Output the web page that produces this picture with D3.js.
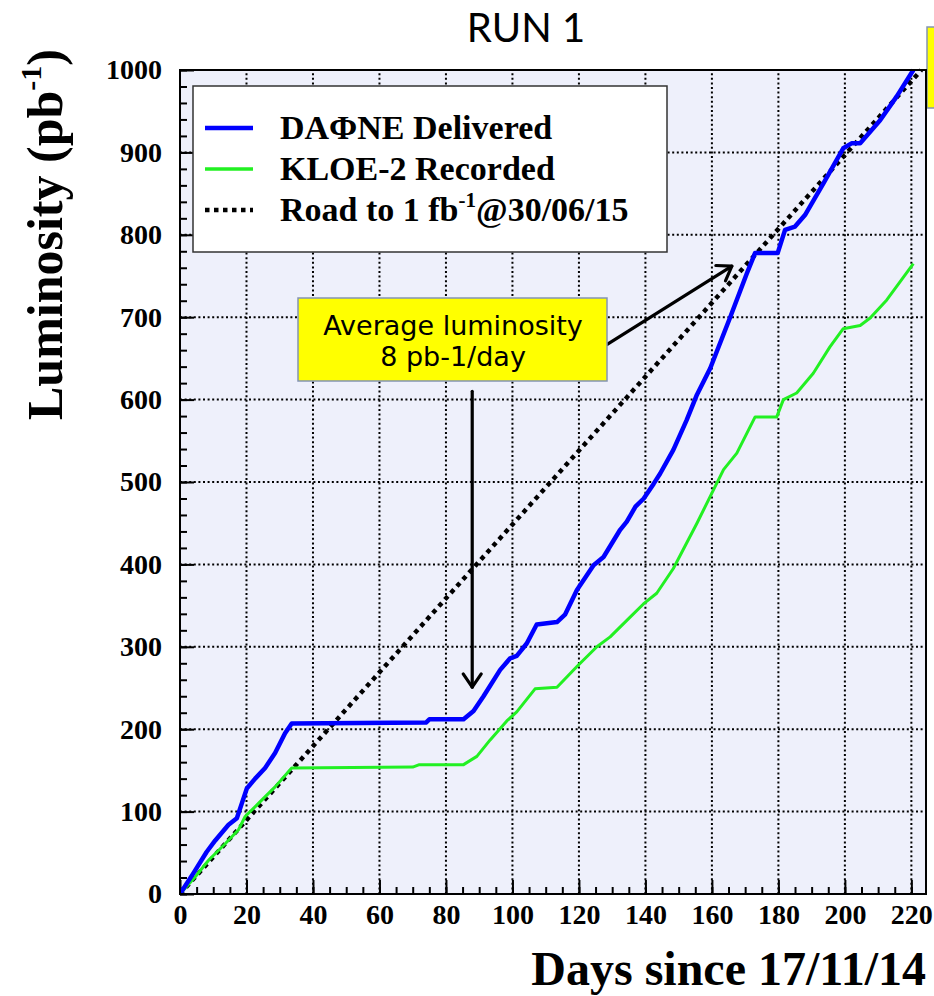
<!DOCTYPE html>
<html>
<head>
<meta charset="utf-8">
<script src="https://cdn.jsdelivr.net/npm/d3@7"></script>
<style>
  body { margin: 0; background: #ffffff; }
  svg { display: block; }
</style>
</head>
<body>
<svg id="chart" width="934" height="996"></svg>
<script>
// Integrated luminosity, DAΦNE delivered (pb^-1) vs days since 17/11/14
const deliveredDays = [0, 4, 8, 10.6, 14.6, 17.1, 18.6, 20.1, 22.6, 25.6, 28.6, 31.6, 33.6,
  74, 75, 85.3, 88.3, 91.3, 96.3, 99.3, 101.3, 104.3, 107.3, 113.4, 115.8, 119.4, 124.4,
  127.4, 132.4, 134.4, 137, 139.5, 142.5, 144.4, 148.4, 152.4, 155.5, 159.5, 165.5, 170.5,
  173, 179.8, 182, 185, 188, 193.5, 199.5, 202, 204.6, 210.6, 215.6, 220.6];
const deliveredLumi = [0, 25, 51, 65, 84, 92, 110, 128, 140, 153, 171, 195, 207,
  208, 212, 212, 222, 240, 272, 286, 289, 304, 327, 330, 339, 369, 399,
  409, 442, 452, 470, 480, 498, 510, 539, 575, 606, 638, 700, 753,
  778, 778, 806, 810, 824, 862, 905, 911, 911, 939, 968, 1000];

// KLOE-2 recorded
const recordedDays = [0, 4.6, 8.6, 13.6, 17.6, 19.6, 23.6, 28.6, 33.6, 70, 72, 85.3, 89.3,
  93.3, 98.3, 101.3, 106.8, 113.4, 119.4, 125.4, 129.4, 135.4, 139.4, 143.4, 148.4, 155.5,
  163.5, 167.5, 173, 179.5, 181.5, 185.5, 190.5, 195.5, 199.5, 204.6, 207.6, 212.6, 220.6];
const recordedLumi = [0, 21, 41, 61, 78, 94, 110, 130, 153, 154, 157, 157, 167,
  187, 210, 221, 249, 251, 276, 300, 312, 336, 352, 365, 395, 450,
  515, 535, 579, 579, 600, 608, 632, 664, 686, 690, 699, 721, 765];

// Target: 1 fb^-1 by 30/06/15
const roadDays = [0, 223];
const roadLumi = [0, 1000];

const xTicks = [0, 20, 40, 60, 80, 100, 120, 140, 160, 180, 200, 220];
const yTicks = [0, 100, 200, 300, 400, 500, 600, 700, 800, 900, 1000];

const legendLabels = ["DAΦNE Delivered", "KLOE-2 Recorded", "Road to 1 fb"];
const titleText = "RUN 1";
const xTitle = "Days since 17/11/14";
const yTitle = "Luminosity (pb";
const noteLines = ["Average luminosity", "8 pb-1/day"];

// Annotation arrows, in data units: [fromDay, fromLumi, toDay, toLumi]
const arrowDown = [87.9, 610, 87.9, 251];
const arrowDiag = [128.5, 667, 166, 762];

const svg = d3.select("#chart");
const plotLeft = 180, plotRight = 926, plotTop = 70, plotBottom = 894;

const x = d3.scaleLinear().domain([0, 224.4]).range([plotLeft, plotRight]);
const y = d3.scaleLinear().domain([0, 1000]).range([plotBottom, plotTop]);

const serif = "'Liberation Serif', 'Times New Roman', serif";
const sans = "Lato, 'Open Sans', sans-serif";
const noteFont = "'DejaVu Sans', Verdana, sans-serif";

// title
svg.append("text")
  .attr("x", 526).attr("y", 42)
  .attr("text-anchor", "middle")
  .attr("font-family", sans).attr("font-size", 40)
  .text(titleText);

// partially visible note box at the top right
svg.append("rect")
  .attr("x", 927).attr("y", 27).attr("width", 30).attr("height", 81)
  .attr("fill", "#ffff00").attr("stroke", "#8494b4").attr("stroke-width", 1.5);

// plot background
svg.append("rect")
  .attr("x", plotLeft).attr("y", plotTop)
  .attr("width", plotRight - plotLeft).attr("height", plotBottom - plotTop)
  .attr("fill", "#eef0fb");

// dotted grid
const grid = svg.append("g").attr("stroke", "#000").attr("stroke-width", 2)
  .attr("stroke-dasharray", "2,2.6");
grid.selectAll(".vg").data(xTicks.filter(d => d > 0)).join("line")
  .attr("x1", d => x(d)).attr("x2", d => x(d))
  .attr("y1", plotBottom).attr("y2", plotTop);
grid.selectAll(".hg").data(yTicks.filter(d => d > 0 && d < 1000)).join("line")
  .attr("y1", d => y(d)).attr("y2", d => y(d))
  .attr("x1", plotLeft).attr("x2", plotRight);

// axes with inward ticks
const xMinor = d3.range(0, 225, 5);
const yMinor = d3.range(0, 1001, 20);

const xMinorAxis = d3.axisBottom(x).tickValues(xMinor).tickSize(-7).tickFormat("");
const xAxis = d3.axisBottom(x).tickValues(xTicks).tickSize(-14).tickPadding(10)
  .tickFormat(d3.format("d"));
const yMinorAxis = d3.axisLeft(y).tickValues(yMinor).tickSize(-7).tickFormat("");
const yAxis = d3.axisLeft(y).tickValues(yTicks).tickSize(-14).tickPadding(18)
  .tickFormat(d3.format("d"));

function styleAxis(g) {
  g.select(".domain").remove();
  g.selectAll(".tick line").attr("stroke", "#000").attr("stroke-width", 2);
  g.selectAll(".tick text")
    .attr("font-family", serif).attr("font-weight", "bold")
    .attr("font-size", 28).attr("fill", "#000");
}

svg.append("g").attr("transform", `translate(0,${plotBottom})`).call(xMinorAxis).call(styleAxis);
svg.append("g").attr("transform", `translate(0,${plotBottom})`).call(xAxis).call(styleAxis);
svg.append("g").attr("transform", `translate(${plotLeft},0)`).call(yMinorAxis).call(styleAxis);
svg.append("g").attr("transform", `translate(${plotLeft},0)`).call(yAxis).call(styleAxis);

// clip for curves
svg.append("clipPath").attr("id", "plotClip")
  .append("rect").attr("x", plotLeft).attr("y", plotTop - 3)
  .attr("width", plotRight - plotLeft).attr("height", plotBottom - plotTop + 3);

const line = d3.line().x(d => x(d[0])).y(d => y(d[1]));
const curves = svg.append("g").attr("clip-path", "url(#plotClip)");

curves.append("path")
  .datum(d3.zip(roadDays, roadLumi))
  .attr("d", line).attr("fill", "none")
  .attr("stroke", "#000").attr("stroke-width", 4.5)
  .attr("stroke-dasharray", "4.5,4.5");

curves.append("path")
  .datum(d3.zip(recordedDays, recordedLumi))
  .attr("d", line).attr("fill", "none")
  .attr("stroke", "#22f022").attr("stroke-width", 3)
  .attr("stroke-linejoin", "round");

curves.append("path")
  .datum(d3.zip(deliveredDays, deliveredLumi))
  .attr("d", line).attr("fill", "none")
  .attr("stroke", "#0000ff").attr("stroke-width", 4.5)
  .attr("stroke-linejoin", "round");

// frame
svg.append("rect")
  .attr("x", plotLeft).attr("y", plotTop)
  .attr("width", plotRight - plotLeft).attr("height", plotBottom - plotTop)
  .attr("fill", "none").attr("stroke", "#000").attr("stroke-width", 2);

// legend
const legend = svg.append("g");
legend.append("rect")
  .attr("x", 193).attr("y", 86).attr("width", 474).attr("height", 166)
  .attr("fill", "#fff").attr("stroke", "#333").attr("stroke-width", 1.5);

const legendStyles = [
  { color: "#0000ff", width: 4.5, dash: null },
  { color: "#22f022", width: 3.5, dash: null },
  { color: "#000", width: 4.5, dash: "4.5,4.5" }
];
legendStyles.forEach((s, i) => {
  const ly = 128 + i * 41;
  legend.append("line")
    .attr("x1", 205).attr("x2", 253).attr("y1", ly).attr("y2", ly)
    .attr("stroke", s.color).attr("stroke-width", s.width)
    .attr("stroke-dasharray", s.dash);
  const t = legend.append("text")
    .attr("x", 280).attr("y", ly + 11)
    .attr("font-family", serif).attr("font-weight", "bold").attr("font-size", 34)
    .text(legendLabels[i]);
  if (i === 2) {
    t.append("tspan").attr("font-size", 21).attr("dy", -14).text("-1");
    t.append("tspan").attr("dy", 14).text("@30/06/15");
  }
});

// y-axis title
const yt = svg.append("text")
  .attr("transform", "translate(62,420) rotate(-90)")
  .attr("font-family", serif).attr("font-weight", "bold").attr("font-size", 50)
  .text(yTitle);
yt.append("tspan").attr("font-size", 30).attr("dy", -21).text("-1");
yt.append("tspan").attr("dy", 21).text(")");

// x-axis title
svg.append("text")
  .attr("x", 926).attr("y", 985)
  .attr("text-anchor", "end")
  .attr("font-family", serif).attr("font-weight", "bold").attr("font-size", 48)
  .text(xTitle);

// arrows
function arrow(a) {
  const [x1, y1, x2, y2] = [x(a[0]), y(a[1]), x(a[2]), y(a[3])];
  const ang = Math.atan2(y2 - y1, x2 - x1);
  const len = 16, spread = 0.6;
  const g = svg.append("g").attr("stroke", "#000").attr("stroke-width", 3.2)
    .attr("fill", "none").attr("stroke-linecap", "round").attr("stroke-linejoin", "round");
  g.append("line").attr("x1", x1).attr("y1", y1).attr("x2", x2).attr("y2", y2);
  g.append("path").attr("d",
    `M${x2 - len * Math.cos(ang - spread)},${y2 - len * Math.sin(ang - spread)}` +
    `L${x2},${y2}` +
    `L${x2 - len * Math.cos(ang + spread)},${y2 - len * Math.sin(ang + spread)}`);
}
arrow(arrowDown);
arrow(arrowDiag);

// note box
svg.append("rect")
  .attr("x", 298).attr("y", 298).attr("width", 309).attr("height", 83)
  .attr("fill", "#ffff00").attr("stroke", "#8494b4").attr("stroke-width", 1.5);
noteLines.forEach((s, i) => {
  svg.append("text")
    .attr("x", 453).attr("y", 335 + i * 31)
    .attr("text-anchor", "middle")
    .attr("font-family", noteFont).attr("font-size", 27)
    .text(s);
});
</script>
</body>
</html>
